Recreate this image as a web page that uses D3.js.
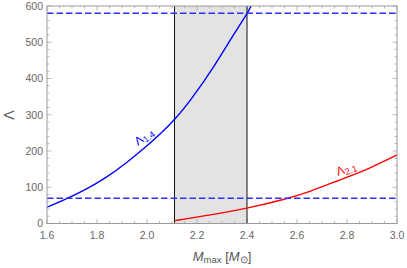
<!DOCTYPE html>
<html><head><meta charset="utf-8">
<script src="https://cdn.jsdelivr.net/npm/d3@7"></script>
<style>body{margin:0;background:#fff}</style>
</head><body>
<svg id="c" width="407" height="268"></svg>
<script>
// Data
const lambda14M = [1.6, 1.676, 1.756, 1.836, 1.916, 1.996, 2.056, 2.112, 2.176, 2.269, 2.349, 2.403, 2.416];
const lambda14V = [45, 67, 94, 126, 166, 212, 249, 287, 341, 433, 525, 581, 600];
const lambda21M = [2.11, 2.252, 2.403, 2.559, 2.652, 2.759, 2.892, 3.0];
const lambda21V = [8, 23, 42, 68, 88, 117, 152, 189];
const hLines = [580, 70];
const band = [2.11, 2.4];
const xTicks = [1.6, 1.8, 2.0, 2.2, 2.4, 2.6, 2.8, 3.0];
const yTicks = [0, 100, 200, 300, 400, 500, 600];

const svg = d3.select("#c");
const L = 47, R = 397, T = 6, B = 223.5;
const x = d3.scaleLinear().domain([1.6, 3.0]).range([L, R]);
const y = d3.scaleLinear().domain([0, 600]).range([B, T]);
const font = "Liberation Sans, Arial, sans-serif";
const tickCol = "#aaa";
const labCol = "#666";

// band
svg.append("rect").attr("x", x(band[0])).attr("y", T).attr("width", x(band[1]) - x(band[0])).attr("height", B - T).attr("fill", "#e3e3e3");

// ticks
const xMinor = d3.range(1.6, 3.0001, 0.05);
const yMinor = d3.range(0, 600.001, 20);
const tg = svg.append("g").attr("stroke", tickCol).attr("stroke-width", 0.8);
xMinor.forEach(v => {
  const major = xTicks.some(t => Math.abs(t - v) < 1e-6);
  const len = major ? 4.5 : 2.5;
  tg.append("line").attr("x1", x(v)).attr("x2", x(v)).attr("y1", B).attr("y2", B - len);
  tg.append("line").attr("x1", x(v)).attr("x2", x(v)).attr("y1", T).attr("y2", T + len);
});
yMinor.forEach(v => {
  const major = yTicks.some(t => Math.abs(t - v) < 1e-6);
  const len = major ? 4.5 : 2.5;
  tg.append("line").attr("y1", y(v)).attr("y2", y(v)).attr("x1", L).attr("x2", L + len);
  tg.append("line").attr("y1", y(v)).attr("y2", y(v)).attr("x1", R).attr("x2", R - len);
});

// band lines
band.forEach(b => svg.append("line").attr("x1", x(b)).attr("x2", x(b)).attr("y1", T).attr("y2", B).attr("stroke", "#111").attr("stroke-width", 1));

// curves
const line = d3.line().x(d => x(d[0])).y(d => y(d[1])).curve(d3.curveBasis);
svg.append("clipPath").attr("id", "clp").append("rect").attr("x", L).attr("y", T).attr("width", R - L).attr("height", B - T);
svg.append("path").datum(lambda14M.map((m, i) => [m, lambda14V[i]])).attr("d", line)
  .attr("fill", "none").attr("stroke", "#0000ff").attr("stroke-width", 1.4).attr("clip-path", "url(#clp)");
svg.append("path").datum(lambda21M.map((m, i) => [m, lambda21V[i]])).attr("d", line)
  .attr("fill", "none").attr("stroke", "#ff0000").attr("stroke-width", 1.4).attr("clip-path", "url(#clp)");

// dashed
hLines.forEach(h => svg.append("line").attr("x1", L).attr("x2", R).attr("y1", y(h)).attr("y2", y(h))
  .attr("stroke", "#2f2fff").attr("stroke-width", 1.5).attr("stroke-dasharray", "6.5,3"));

// frame
svg.append("rect").attr("x", L).attr("y", T).attr("width", R - L).attr("height", B - T).attr("fill", "none").attr("stroke", "#999").attr("stroke-width", 1);

// tick labels
xTicks.forEach(v => svg.append("text").attr("x", x(v)).attr("y", B + 15).attr("text-anchor", "middle")
  .attr("font-family", font).attr("font-size", 10.5).attr("fill", labCol).text(v.toFixed(1)));
yTicks.forEach(v => svg.append("text").attr("x", L - 4).attr("y", y(v) + 3.8).attr("text-anchor", "end")
  .attr("font-family", font).attr("font-size", 10.5).attr("fill", labCol).text(v));

// axis labels
const xl = svg.append("text").attr("x", 222).attr("y", 261).attr("text-anchor", "middle")
  .attr("font-family", font).attr("font-size", 13).attr("fill", "#555");
xl.append("tspan").attr("font-style", "italic").text("M");
xl.append("tspan").attr("font-size", 9.5).attr("dy", 2).text("max");
xl.append("tspan").attr("dy", -2).text(" [");
xl.append("tspan").attr("font-style", "italic").text("M");
xl.append("tspan").attr("font-size", 9.5).attr("dy", 2).text("⊙");
xl.append("tspan").attr("dy", -2).text("]");

svg.append("text").attr("transform", "translate(14,115) rotate(-90)").attr("text-anchor", "middle")
  .attr("font-family", font).attr("font-size", 14).attr("fill", "#555").text("Λ");

// curve labels
const l1 = svg.append("text").attr("transform", "translate(138,146) rotate(-36)")
  .attr("font-family", font).attr("font-size", 12).attr("fill", "#0000ff");
l1.append("tspan").text("Λ");
l1.append("tspan").attr("font-size", 9).attr("dy", 2).text("1.4");
const l2 = svg.append("text").attr("transform", "translate(338,176) rotate(-20)")
  .attr("font-family", font).attr("font-size", 12).attr("fill", "#ff0000");
l2.append("tspan").text("Λ");
l2.append("tspan").attr("font-size", 9).attr("dy", 2).text("2.1");
</script>
</body></html>
